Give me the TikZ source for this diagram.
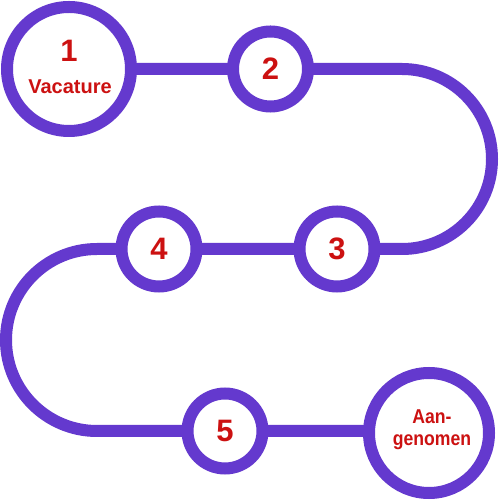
\documentclass[tikz,border=0pt]{standalone}
\usepackage{fontspec}
\setmainfont{Liberation Sans}
\definecolor{pathpurple}{HTML}{6439CE}
\definecolor{labelred}{HTML}{CC1111}
\tikzset{
  track/.style={draw=pathpurple, line width=12pt},
  bigstop/.style={circle, draw=pathpurple, line width=12pt, fill=white, minimum size=124pt, inner sep=0pt},
  smallstop/.style={circle, draw=pathpurple, line width=12pt, fill=white, minimum size=75pt, inner sep=0pt,
    text=labelred, font=\fontsize{31}{31}\selectfont\bfseries},
  lbl/.style={text=labelred, inner sep=0pt, anchor=base},
}
\begin{document}
\begin{tikzpicture}[x=1pt, y=1pt]
\useasboundingbox (0,0) rectangle (500,500);
\fill[white] (0,0) rectangle (500,500);
% turn points of the track
\coordinate (r1) at (402,431);
\coordinate (r2) at (402,251);
\coordinate (l1) at (97,251);
\coordinate (l2) at (97,69);
% stop positions
\coordinate (p1) at (69,431);
\coordinate (p2) at (270.5,431);
\coordinate (p3) at (337,251);
\coordinate (p4) at (159,251);
\coordinate (p5) at (225,69);
\coordinate (p6) at (429,67);
% track
\draw[track] (p1) -- (p2) -- (r1) arc[start angle=90, end angle=-90, radius=90] -- (p3) -- (p4) -- (l1)
  arc[start angle=90, end angle=270, radius=91] -- (p5) -- (p5 -| p6);
% stops
\node[bigstop] (c1) at (p1) {};
\node[smallstop] (c2) at (p2) {2};
\node[smallstop] (c3) at (p3) {3};
\node[smallstop] (c4) at (p4) {4};
\node[smallstop] (c5) at (p5) {5};
\node[bigstop, minimum size=120pt] (c6) at (p6) {};
% labels
\node[lbl, font=\fontsize{31}{31}\selectfont\bfseries] (t1) at (69,438) {1};
\node[lbl, font=\fontsize{20}{20}\selectfont\bfseries] (t1b) at (70,406) {Vacature};
\node[lbl, font=\fontsize{20}{20}\selectfont\bfseries] (t6a) at (432,76) {\scalebox{0.88}[1]{Aan-}};
\node[lbl, font=\fontsize{20}{20}\selectfont\bfseries] (t6b) at (432,54) {\scalebox{0.88}[1]{genomen}};
\end{tikzpicture}
\end{document}
